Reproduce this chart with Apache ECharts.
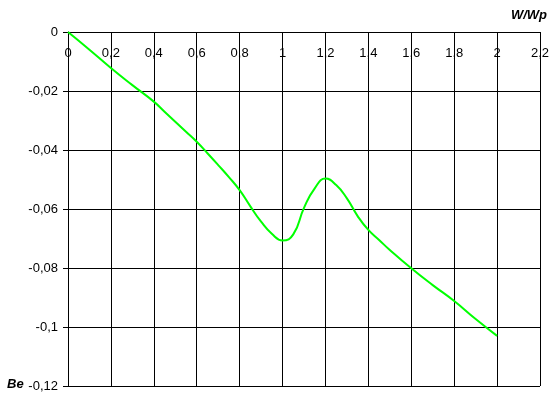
<!DOCTYPE html>
<html><head><meta charset="utf-8">
<script src="https://cdn.jsdelivr.net/npm/echarts@6/dist/echarts.min.js"></script>
<style>html,body{margin:0;padding:0;background:#fff}#c{width:556px;height:402px}</style>
</head><body><div id="c"></div>
<script>
const xValues = [0, 0.1, 0.2, 0.3, 0.4, 0.45, 0.5, 0.55, 0.6, 0.65, 0.7, 0.75, 0.8, 0.85, 0.9, 0.95, 1.0, 1.05, 1.1, 1.15, 1.2, 1.25, 1.3, 1.35, 1.4, 1.45, 1.5, 1.6, 1.7, 1.8, 1.9, 2.0];
const beValues = [0, -0.006, -0.0122, -0.018, -0.0236, -0.027, -0.0304, -0.0338, -0.0372, -0.0411, -0.0451, -0.0492, -0.0536, -0.0591, -0.0643, -0.0684, -0.0707, -0.0686, -0.0596, -0.053, -0.0497, -0.0519, -0.0564, -0.0624, -0.0671, -0.0705, -0.0739, -0.0801, -0.0858, -0.0912, -0.0973, -0.103];
const xTitle = 'W/Wp';
const yTitle = 'Be';
function fmt(v){ return (+v.toFixed(4)).toString().replace('.', ','); }
const chart = echarts.init(document.getElementById('c'));
chart.setOption({
  animation: false,
  grid: {left: 68, top: 32, right: 16, bottom: 16},
  xAxis: {
    type: 'value', min: 0, max: 2.2, interval: 0.2, position: 'top',
    axisLine: {show: true, onZero: false, lineStyle: {color: '#000', width: 1}},
    axisTick: {show: false},
    axisLabel: {inside: true, margin: 15, color: '#000', fontFamily: 'Liberation Sans, Arial', fontSize: 13, formatter: fmt, showMinLabel: true, showMaxLabel: true},
    splitLine: {show: true, lineStyle: {color: '#000', width: 1}}
  },
  yAxis: {
    type: 'value', min: -0.12, max: 0, interval: 0.02,
    axisLine: {show: true, lineStyle: {color: '#000', width: 1}},
    axisTick: {show: true, length: 5, lineStyle: {color: '#000'}},
    axisLabel: {margin: 10, color: '#000', fontFamily: 'Liberation Sans, Arial', fontSize: 13, formatter: fmt},
    splitLine: {show: true, lineStyle: {color: '#000', width: 1}}
  },
  graphic: [
    {type: 'text', right: 9, top: 9, style: {text: xTitle, font: 'italic bold 13px Liberation Sans, Arial', fill: '#000'}},
    {type: 'text', left: 7, top: 378, style: {text: yTitle, font: 'italic bold 13px Liberation Sans, Arial', fill: '#000'}}
  ],
  series: [{
    type: 'line', smooth: 0.5, symbol: 'none',
    lineStyle: {color: '#00ff00', width: 2},
    data: xValues.map((x, i) => [x, beValues[i]])
  }]
});
</script></body></html>
